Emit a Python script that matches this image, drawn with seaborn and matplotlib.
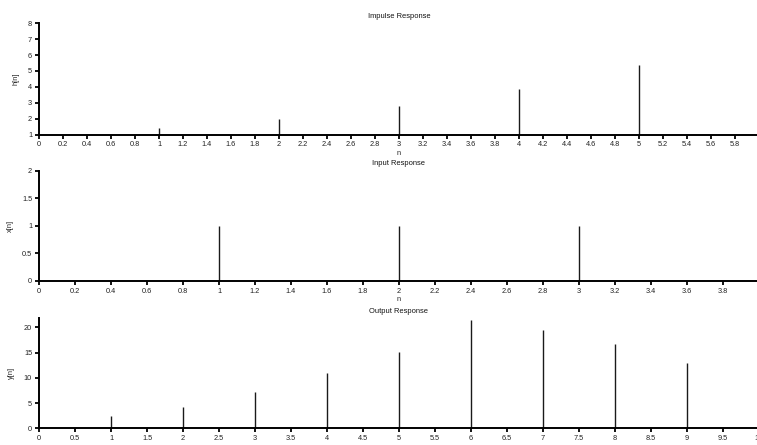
import numpy as np
import matplotlib
matplotlib.use("Agg")
import matplotlib.pyplot as plt
from matplotlib.ticker import MultipleLocator, FuncFormatter
import seaborn as sns

# Discrete-time signals
n_h = [0, 1, 2, 3, 4, 5]
h_vals = [1.0, 1.43, 2.0, 2.77, 3.85, 5.35]

n_x = [0, 1, 2, 3]
x_vals = [0.0, 1.0, 1.0, 1.0]

n_y = [1, 2, 3, 4, 5, 6, 7, 8, 9]
y_vals = [2.4, 4.3, 7.1, 10.9, 15.2, 21.4, 19.5, 16.7, 12.9]

titles = ["Impulse Response", "Input Response", "Output Response"]
ylabels = ["h[n]", "x[n]", "y[n]"]

sns.set_style("white")
plt.rcParams["font.family"] = ["Liberation Sans", "DejaVu Sans"]

fig = plt.figure(figsize=(7.57, 4.45), dpi=100)

W, H = 757.0, 445.0
left = 39 / W
width = (759 - 39) / W


def make_axes(top_px, bottom_px):
    return fig.add_axes([left, 1 - bottom_px / H, width, (bottom_px - top_px) / H])


def tick_fmt(hide_above):
    def f(val, pos):
        if hide_above is not None and val > hide_above + 1e-9:
            return ""
        return "%g" % round(val, 6)
    return FuncFormatter(f)


ax_h = make_axes(23.3, 134.5)
ax_x = make_axes(170.7, 280.7)
ax_y = make_axes(318.3, 428.3)

panels = [
    (ax_h, n_h, h_vals, (0, 6), (1, 8), 0.2, 0.1, 1, 0.5, 5.9, True),
    (ax_x, n_x, x_vals, (0, 4), (0, 2), 0.2, 0.1, 0.5, 0.25, 3.9, True),
    (ax_y, n_y, y_vals, (0, 10), (0, 21.8), 0.5, 0.1, 5, 1, None, False),
]

for i, (ax, n, v, xl, yl, xmaj, xmin, ymaj, ymin, xhide, show_n) in enumerate(panels):
    base = yl[0]
    ax.vlines(n, base, v, color="#1a1a1a", linewidth=1.0)
    ax.set_xlim(*xl)
    ax.set_ylim(*yl)
    ax.xaxis.set_major_locator(MultipleLocator(xmaj))
    ax.xaxis.set_minor_locator(MultipleLocator(xmin))
    ax.yaxis.set_major_locator(MultipleLocator(ymaj))
    ax.yaxis.set_minor_locator(MultipleLocator(ymin))
    ax.xaxis.set_major_formatter(tick_fmt(xhide))
    ax.yaxis.set_major_formatter(tick_fmt(None))
    ax.tick_params(axis="both", which="major", direction="out", length=3,
                   width=1.3, color="black", labelsize=5.3, pad=2,
                   labelcolor="#222222")
    ax.tick_params(axis="both", which="minor", direction="out", length=1.5,
                   width=1.3, color="black")
    ax.tick_params(axis="x", top=False, bottom=True)
    ax.tick_params(axis="y", left=True, right=False)
    sns.despine(ax=ax, top=True, right=True)
    for side in ("left", "bottom"):
        ax.spines[side].set_linewidth(1.4)
        ax.spines[side].set_color("black")
    ax.set_title(titles[i], fontsize=5.4, pad=4, color="#111111")
    ax.set_ylabel(ylabels[i], fontsize=5.3, labelpad=6, color="#222222")
    if show_n:
        ax.set_xlabel("n", fontsize=5.3, labelpad=1, color="#222222")
    ax.set_facecolor("white")

fig.savefig("out.png", dpi=100, facecolor="white")
